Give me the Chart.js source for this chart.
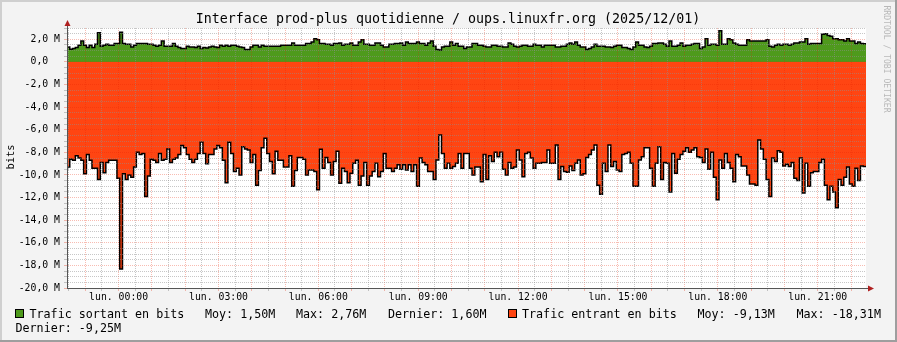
<!DOCTYPE html>
<html lang="fr">
<head>
<meta charset="utf-8">
<title>Interface prod-plus quotidienne</title>
<script src="https://cdn.jsdelivr.net/npm/chart.js@4/dist/chart.umd.min.js"></script>
<style>
  html, body { margin: 0; padding: 0; background: #f3f3f3; }
  canvas { display: block; }
</style>
</head>
<body>
<canvas id="graph" width="897" height="342"></canvas>
<script>
// pas de 5 minutes, premier point à 22:27 la veille (minutes depuis 00:00)
const stepMinutes = 5;
const firstMinute = -93;

// trafic sortant, en Mbit/s
const outgoingMbits = [
  1.33, 1.12, 1.18, 1.27, 1.47, 1.86, 1.47, 1.27, 1.47, 1.27,
  1.56, 2.59, 1.39, 1.47, 1.56, 1.47, 1.47, 1.62, 1.62, 2.62,
  1.62, 1.56, 1.56, 1.33, 1.47, 1.62, 1.62, 1.62, 1.62, 1.56,
  1.56, 1.47, 1.39, 1.47, 1.86, 1.39, 1.39, 1.39, 1.62, 1.39,
  1.27, 1.18, 1.18, 1.39, 1.33, 1.33, 1.27, 1.39, 1.18, 1.27,
  1.24, 1.33, 1.39, 1.33, 1.27, 1.47, 1.39, 1.47, 1.39, 1.47,
  1.47, 1.39, 1.33, 1.27, 1.09, 1.09, 1.33, 1.47, 1.47, 1.33,
  1.47, 1.39, 1.39, 1.39, 1.39,
  1.39, 1.39, 1.47, 1.47, 1.47, 1.47, 1.68, 1.47, 1.47, 1.47,
  1.47, 1.62, 1.62, 1.77, 2.06, 1.97, 1.62, 1.62, 1.56, 1.56,
  1.47, 1.62, 1.62, 1.68, 1.47, 1.56, 1.56, 1.68, 1.47, 1.47,
  1.77, 1.97, 1.56, 1.56, 1.47, 1.47, 1.68, 1.68, 1.47, 1.33,
  1.33, 1.56, 1.56, 1.62, 1.62, 1.68, 1.47, 1.77, 1.62, 1.62,
  1.62, 1.77, 1.62, 1.62, 1.47, 1.68, 1.86, 1.39, 1.09, 1.05,
  1.33, 1.39, 1.39, 1.77, 1.47, 1.62, 1.39, 1.39, 1.18, 1.33,
  1.33, 1.62, 1.62, 1.47, 1.47, 1.39, 1.33, 1.33,
  1.47, 1.47, 1.39, 1.39, 1.33, 1.33, 1.68, 1.56, 1.39, 1.33,
  1.39, 1.47, 1.47, 1.39, 1.39, 1.56, 1.47, 1.47, 1.33, 1.47,
  1.47, 1.47, 1.47, 1.33, 1.33, 1.39, 1.39, 1.56, 1.68, 1.56,
  1.77, 1.47, 1.33, 1.33, 1.09, 1.18, 1.33, 1.56, 1.39, 1.39,
  1.39, 1.33, 1.33, 1.27, 1.39, 1.47, 1.47, 1.27, 1.27, 1.18,
  1.09, 1.33, 1.77, 1.47, 1.47, 1.33, 1.27, 1.39, 1.62, 1.62,
  1.68, 1.68, 1.56, 1.39, 1.86, 1.39, 1.39, 1.47, 1.68, 1.39,
  1.47, 1.47, 1.56, 1.62, 1.62,
  1.18, 1.33, 2.06, 1.47, 1.56, 1.56, 1.47, 2.76, 1.56, 1.56,
  2.06, 1.97, 1.68, 1.56, 1.47, 1.47, 1.47, 1.97, 1.86, 1.86,
  1.86, 1.86, 1.86, 1.86, 1.97, 1.39, 1.33, 1.47, 1.56, 1.47,
  1.56, 1.56, 1.47, 1.56, 1.68, 1.68, 1.77, 1.77, 2.06, 1.56,
  1.62, 1.62, 1.62, 1.62, 2.44, 2.50, 2.33, 2.27, 2.06, 2.06,
  1.97, 1.97, 1.86, 2.06, 1.86, 1.86, 1.62, 1.77, 1.62, 1.60
];

// trafic entrant, en Mbit/s (tracé en négatif)
const incomingMbits = [
  9.3, 8.6, 8.7, 8.3, 8.5, 8.7, 9.9, 8.2, 8.7, 9.4,
  9.4, 10.4, 8.9, 9.8, 8.9, 8.7, 8.7, 8.7, 10.3, 18.31,
  9.9, 10.4, 10.0, 10.2, 9.3, 8.0, 8.2, 8.1, 11.9, 10.1,
  8.6, 8.7, 8.9, 8.1, 8.7, 8.6, 7.7, 8.9, 8.6, 8.5,
  8.2, 7.4, 7.6, 8.2, 8.6, 8.9, 8.6, 8.1, 7.1, 8.1,
  9.0, 8.2, 8.2, 7.7, 7.4, 7.6, 8.7, 10.7, 7.1, 8.1,
  9.7, 9.4, 10.0, 7.5, 7.7, 7.8, 8.9, 8.2, 10.9, 9.6,
  7.6, 6.75, 8.1, 8.8, 9.9, 7.9, 8.7, 8.7, 9.3, 9.3,
  8.3, 11.0, 9.6,
  8.45, 8.45, 8.6, 10.0, 9.56, 9.56, 9.7, 11.3, 7.73, 9.4,
  8.45, 8.9, 10.0, 8.8, 7.9, 10.74, 9.4, 9.7, 10.7, 9.85,
  8.97, 8.7, 10.9, 10.1, 8.9, 10.9, 10.1, 9.7, 8.97, 10.15,
  9.7, 8.1, 9.4, 9.4, 9.7, 9.4, 9.1, 9.5, 9.1, 9.56,
  9.1, 9.7, 9.1, 11.0, 8.5, 8.9, 9.1, 9.7, 9.7, 10.4,
  8.67, 6.46, 8.1, 9.4, 8.97, 9.4, 9.26, 8.97, 8.1, 9.4,
  8.1, 8.1, 9.4, 10.0, 9.3, 9.3, 10.6, 8.2,
  10.4, 8.3, 8.8, 8.0, 8.4, 8.0, 9.5, 10.0, 8.9, 9.4,
  9.3, 7.8, 8.67, 10.15, 8.1, 8.0, 8.5, 9.4, 8.97, 8.97,
  8.9, 8.9, 7.8, 8.97, 8.97, 7.35, 10.4, 9.26, 9.7, 9.76,
  9.2, 9.6, 8.97, 8.67, 10.0, 9.9, 8.45, 8.2, 7.8, 7.35,
  10.9, 11.7, 8.97, 9.7, 7.35, 9.26, 8.8, 9.56, 9.7, 8.2,
  8.1, 8.0, 8.97, 11.0, 11.0, 8.67, 8.4, 7.6, 7.6, 9.4,
  11.0, 8.97, 7.5, 10.4, 8.9, 8.97, 11.5, 8.1, 9.85, 8.6,
  8.2, 7.9, 7.6, 8.0, 7.8, 7.6,
  8.4, 8.45, 8.9, 7.7, 9.5, 8.0, 10.2, 12.2, 8.67, 9.4,
  8.1, 8.9, 9.4, 10.6, 8.2, 8.4, 9.2, 9.2, 10.0, 10.8,
  10.8, 10.9, 6.9, 7.7, 8.6, 10.4, 11.9, 8.5, 8.8, 7.85,
  8.0, 9.2, 9.05, 9.26, 8.9, 10.3, 10.5, 8.5, 11.6, 8.97,
  11.0, 9.8, 9.7, 9.7, 8.9, 8.6, 10.9, 12.2, 11.0, 11.5,
  12.9, 10.4, 10.9, 10.2, 9.3, 10.8, 11.0, 9.4, 10.5, 9.2,
  9.25
];

const hourLabels = ["lun. 00:00", "lun. 03:00", "lun. 06:00", "lun. 09:00",
  "lun. 12:00", "lun. 15:00", "lun. 18:00", "lun. 21:00"];

const seriesNames = ["Trafic sortant en bits", "Trafic entrant en bits"];
const outgoingStats = ["Moy: 1,50M", "Max: 2,76M", "Dernier: 1,60M"];
const incomingStats = ["Moy: -9,13M", "Max: -18,31M", "Dernier: -9,25M"];

const titleText = "Interface prod-plus quotidienne / oups.linuxfr.org (2025/12/01)";

const greenFill = "#4e9a1c";
const redFill = "#ff4512";
const gridColor = "rgba(143, 143, 143, 0.5)";
const mgridColor = "rgba(233, 32, 0, 0.3)";
const axisColor = "#555555";
const arrowColor = "#b02020";
const mono = "'DejaVu Sans Mono', monospace";

const xMin = firstMinute;
const xMax = firstMinute + stepMinutes * outgoingMbits.length;

const toPoints = (values, sign) => {
  const pts = values.map((v, i) => ({ x: firstMinute + i * stepMinutes, y: sign * v * 1e6 }));
  pts.push({ x: xMax, y: sign * values[values.length - 1] * 1e6 });
  return pts;
};

const fmtAxis = (v) => {
  if (v === 0) return "0,0  ";
  return (v / 1e6).toFixed(1).replace(".", ",") + " M";
};

const decor = {
  id: "decor",
  beforeDraw(chart) {
    const { ctx, chartArea: a, width, height } = chart;
    ctx.save();
    ctx.fillStyle = "#f3f3f3";
    ctx.fillRect(0, 0, width, height);
    ctx.fillStyle = "#cfcfcf";
    ctx.fillRect(0, 0, width, 2);
    ctx.fillRect(0, 0, 2, height);
    ctx.fillStyle = "#9e9e9e";
    ctx.fillRect(0, height - 2, width, 2);
    ctx.fillRect(width - 2, 0, 2, height);
    ctx.fillStyle = "#ffffff";
    ctx.fillRect(a.left, a.top, a.right - a.left, a.bottom - a.top);
    ctx.restore();
  },
  afterDraw(chart) {
    const { ctx, chartArea: a } = chart;
    ctx.save();

    // flèches des axes
    ctx.strokeStyle = axisColor;
    ctx.lineWidth = 1;
    ctx.beginPath();
    ctx.moveTo(a.left + 0.5, a.top);
    ctx.lineTo(a.left + 0.5, a.top - 4);
    ctx.moveTo(a.right, a.bottom + 0.5);
    ctx.lineTo(a.right + 4, a.bottom + 0.5);
    ctx.stroke();
    ctx.fillStyle = arrowColor;
    ctx.beginPath();
    ctx.moveTo(a.left + 0.5, a.top - 8);
    ctx.lineTo(a.left - 2.5, a.top - 2);
    ctx.lineTo(a.left + 3.5, a.top - 2);
    ctx.closePath();
    ctx.fill();
    ctx.beginPath();
    ctx.moveTo(a.right + 8, a.bottom + 0.5);
    ctx.lineTo(a.right + 2, a.bottom - 2.5);
    ctx.lineTo(a.right + 2, a.bottom + 3.5);
    ctx.closePath();
    ctx.fill();

    // titre
    ctx.fillStyle = "#000";
    ctx.font = "13.3px " + mono;
    ctx.textAlign = "center";
    ctx.textBaseline = "alphabetic";
    ctx.fillText(titleText, 448, 23);

    // unité verticale
    ctx.save();
    ctx.translate(14, 157);
    ctx.rotate(-Math.PI / 2);
    ctx.font = "10.4px " + mono;
    ctx.fillText("bits", 0, 0);
    ctx.restore();

    // signature rrdtool
    ctx.save();
    ctx.translate(884, 59);
    ctx.rotate(Math.PI / 2);
    ctx.font = "8.1px " + mono;
    ctx.fillStyle = "#b8b8b8";
    ctx.fillText("RRDTOOL / TOBI OETIKER", 0, 0);
    ctx.restore();

    // légende
    ctx.textAlign = "left";
    ctx.font = "11.7px " + mono;
    const square = (x, color) => {
      ctx.fillStyle = color;
      ctx.fillRect(x, 309.5, 8, 8);
      ctx.strokeStyle = "#000";
      ctx.lineWidth = 1;
      ctx.strokeRect(x + 0.5, 309.5, 8, 8);
    };
    square(15, greenFill);
    square(508, redFill);
    ctx.fillStyle = "#000";
    ctx.fillText(seriesNames[0], 29.5, 318);
    ctx.fillText(outgoingStats[0], 205, 318);
    ctx.fillText(outgoingStats[1], 296, 318);
    ctx.fillText(outgoingStats[2], 388, 318);
    ctx.fillText(seriesNames[1], 522, 318);
    ctx.fillText(incomingStats[0], 697.5, 318);
    ctx.fillText(incomingStats[1], 796.5, 318);
    ctx.fillText(incomingStats[2], 15.5, 332);
    ctx.restore();
  }
};

const xGridMinutes = [];
for (let m = -90; m <= 1320; m += 30) xGridMinutes.push(m);
const yGridValues = [];
for (let v = -20; v <= 3; v += 0.5) yGridValues.push(v * 1e6);

new Chart(document.getElementById("graph"), {
  type: "line",
  data: {
    datasets: [
      {
        label: seriesNames[0],
        data: toPoints(outgoingMbits, 1),
        stepped: "before",
        fill: "origin",
        backgroundColor: greenFill,
        borderColor: "#000",
        borderWidth: 1.5,
        pointRadius: 0,
      },
      {
        label: seriesNames[1],
        data: toPoints(incomingMbits, -1),
        stepped: "before",
        fill: "origin",
        backgroundColor: redFill,
        borderColor: "#000",
        borderWidth: 1.5,
        pointRadius: 0,
      },
    ],
  },
  options: {
    responsive: false,
    animation: false,
    devicePixelRatio: 1,
    layout: { padding: { top: 28, right: 31, left: 0, bottom: 0 } },
    plugins: {
      legend: { display: false },
      title: { display: false },
      tooltip: { enabled: false },
    },
    scales: {
      x: {
        type: "linear",
        min: xMin,
        max: xMax,
        afterBuildTicks: (scale) => { scale.ticks = xGridMinutes.map((v) => ({ value: v })); },
        afterFit: (scale) => { scale.height = 54; },
        ticks: {
          autoSkip: false,
          maxRotation: 0,
          padding: 1,
          color: "#000",
          font: { family: "DejaVu Sans Mono", size: 9.8 },
          callback: (v) => (v >= 0 && v % 180 === 0 ? hourLabels[v / 180] : ""),
          z: 2,
        },
        grid: {
          z: 1,
          tickLength: 3,
          color: (c) => (c.tick && c.tick.value % 60 === 0 ? mgridColor : gridColor),
          tickBorderDash: [],
        },
        border: { color: axisColor, dash: [1, 1], z: 2 },
      },
      y: {
        min: -20e6,
        max: 3e6,
        afterBuildTicks: (scale) => { scale.ticks = yGridValues.map((v) => ({ value: v })); },
        afterFit: (scale) => { scale.width = 67; },
        ticks: {
          autoSkip: false,
          padding: 4,
          color: "#000",
          font: { family: "DejaVu Sans Mono", size: 9.8 },
          callback: (v) => (v % 2e6 === 0 ? fmtAxis(v) : ""),
          z: 2,
        },
        grid: {
          z: 1,
          tickLength: 3,
          color: (c) => (c.tick && c.tick.value % 2e6 === 0 ? mgridColor : gridColor),
          tickBorderDash: [],
        },
        border: { color: axisColor, dash: [1, 1], z: 2 },
      },
    },
  },
  plugins: [decor],
});
</script>
</body>
</html>
